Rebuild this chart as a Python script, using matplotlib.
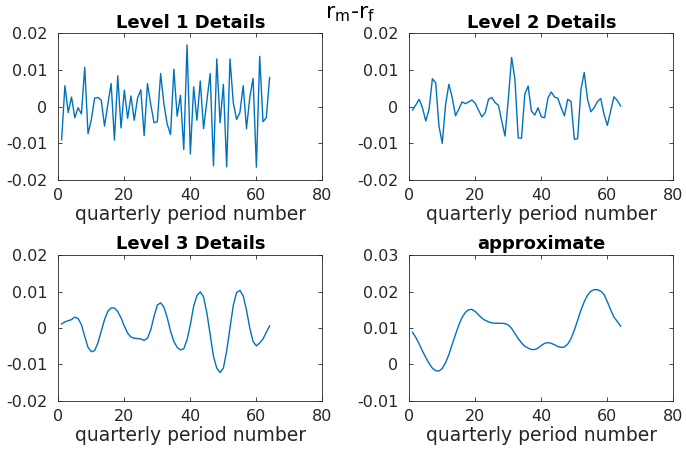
import numpy as np
import matplotlib
matplotlib.use("Agg")
import matplotlib.pyplot as plt

plt.rcParams['font.family'] = ['DejaVu Sans']

# quarterly period index
n = np.arange(1, 65)

level1 = [-0.009, 0.0057, -0.0016, 0.0026, -0.003, -0.0003, -0.002, 0.0107,
          -0.0074, -0.0035, 0.0023, 0.0025, 0.0018, -0.0053, 0.0006, 0.0063,
          -0.0091, 0.0084, -0.0058, 0.0045, -0.0032, 0.0029, -0.0037, 0.0023,
          0.0046, -0.0079, 0.0063, 0.0006, -0.0044, -0.0041, 0.009, 0.0006,
          -0.0048, -0.0076, 0.0102, -0.0026, 0.0031, -0.0117, 0.0168, -0.0129,
          0.0054, -0.0037, 0.007, -0.006, 0.0016, 0.009, -0.0161, 0.013,
          -0.0044, 0.0061, -0.0164, 0.013, 0.0011, -0.0035, -0.0016, 0.0057,
          -0.006, 0.0025, 0.0077, -0.0165, 0.0137, -0.0041, -0.003, 0.0079]

level2 = [-0.0009, 0.0005, 0.002, -0.0003, -0.0039, -0.0007, 0.0076, 0.0065,
          -0.0053, -0.01, 0.0006, 0.0061, 0.0025, -0.0025, -0.0007, 0.0013,
          0.0008, 0.0013, 0.0018, 0.0009, -0.001, -0.0028, -0.0016, 0.002,
          0.0025, 0.0011, 0.0004, -0.0039, -0.008, 0.002, 0.0134, 0.0075,
          -0.0085, -0.0086, 0.0034, 0.0056, -0.0012, -0.0023, -0.0003, -0.0028,
          -0.003, 0.0023, 0.004, 0.0026, 0.0023, -0.0003, -0.0025, 0.002,
          0.0014, -0.0089, -0.0087, 0.0047, 0.0093, 0.002, -0.0014, -0.0003,
          0.0014, 0.0022, -0.0021, -0.0051, -0.0012, 0.0027, 0.0017, 0.0002]

level3 = [0.0011, 0.0017, 0.002, 0.0023, 0.003, 0.0026, 0.0009, -0.0023,
          -0.0053, -0.0065, -0.0062, -0.0041, -0.0009, 0.0023, 0.0046, 0.0055,
          0.0055, 0.0045, 0.0028, 0.0005, -0.0014, -0.0025, -0.0028, -0.0029,
          -0.003, -0.0034, -0.0028, -0.0005, 0.0032, 0.0063, 0.0069, 0.0057,
          0.0028, -0.0009, -0.0037, -0.0053, -0.006, -0.0057, -0.0032, 0.0009,
          0.006, 0.0089, 0.0099, 0.0085, 0.0041, -0.0018, -0.0078, -0.011,
          -0.0122, -0.011, -0.0063, 0.0, 0.0062, 0.0097, 0.0103, 0.0088,
          0.0049, 0.0, -0.0037, -0.0049, -0.0041, -0.003, -0.0012, 0.0006]

approx = [0.0088, 0.0074, 0.0056, 0.0037, 0.0019, 0.0003, -0.001, -0.0017,
          -0.0018, -0.0011, 0.0005, 0.0027, 0.0055, 0.0082, 0.0108, 0.0129,
          0.0143, 0.015, 0.0151, 0.0145, 0.0136, 0.0127, 0.0121, 0.0117,
          0.0114, 0.0113, 0.0113, 0.0113, 0.0112, 0.0108, 0.0099, 0.0085,
          0.0071, 0.0059, 0.005, 0.0045, 0.0041, 0.0041, 0.0045, 0.0052,
          0.0058, 0.006, 0.0058, 0.0054, 0.0049, 0.0047, 0.0048, 0.0056,
          0.0071, 0.0094, 0.0121, 0.0149, 0.0172, 0.019, 0.0201, 0.0205,
          0.0205, 0.0201, 0.0192, 0.0172, 0.015, 0.013, 0.0118, 0.0105]

titles = ["Level 1 Details", "Level 2 Details", "Level 3 Details", "approximate"]
series = [level1, level2, level3, approx]
yticks_detail = [-0.02, -0.01, 0, 0.01, 0.02]
ylabels_detail = ["-0.02", "-0.01", "0", "0.01", "0.02"]
yticks_approx = [-0.01, 0, 0.01, 0.02, 0.03]
ylabels_approx = ["-0.01", "0", "0.01", "0.02", "0.03"]
xticks = [0, 20, 40, 60, 80]

fig = plt.figure(figsize=(6.86, 4.49), dpi=100)
positions = [[0.085, 0.599, 0.385, 0.327],
             [0.5966, 0.599, 0.385, 0.327],
             [0.085, 0.107, 0.385, 0.325],
             [0.5966, 0.107, 0.385, 0.325]]

axcol = '#262626'
for k in range(4):
    ax = fig.add_axes(positions[k])
    ax.plot(n, series[k], color='#0072BD', lw=1.0)
    ax.set_xlim(0, 80)
    ax.set_xticks(xticks)
    if k < 3:
        ax.set_ylim(-0.02, 0.02)
        ax.set_yticks(yticks_detail)
        ax.set_yticklabels(ylabels_detail)
    else:
        ax.set_ylim(-0.01, 0.03)
        ax.set_yticks(yticks_approx)
        ax.set_yticklabels(ylabels_approx)
    ax.tick_params(direction='in', top=True, right=True, length=3,
                   width=0.6, colors=axcol, labelsize=11.5, labelcolor=axcol)
    ax.tick_params(axis='y', pad=8)
    ax.tick_params(axis='x', pad=6)
    for s in ax.spines.values():
        s.set_color(axcol)
        s.set_linewidth(0.6)
    ax.set_title(titles[k], fontsize=13, fontweight='bold', pad=4)
    ax.set_xlabel("quarterly period number", fontsize=13.5, color=axcol, labelpad=1)

fig.text(0.51, 0.99, r"r$_\mathregular{m}$-r$_\mathregular{f}$", ha='center', va='top', fontsize=16)

fig.savefig("out.png", dpi=100)
